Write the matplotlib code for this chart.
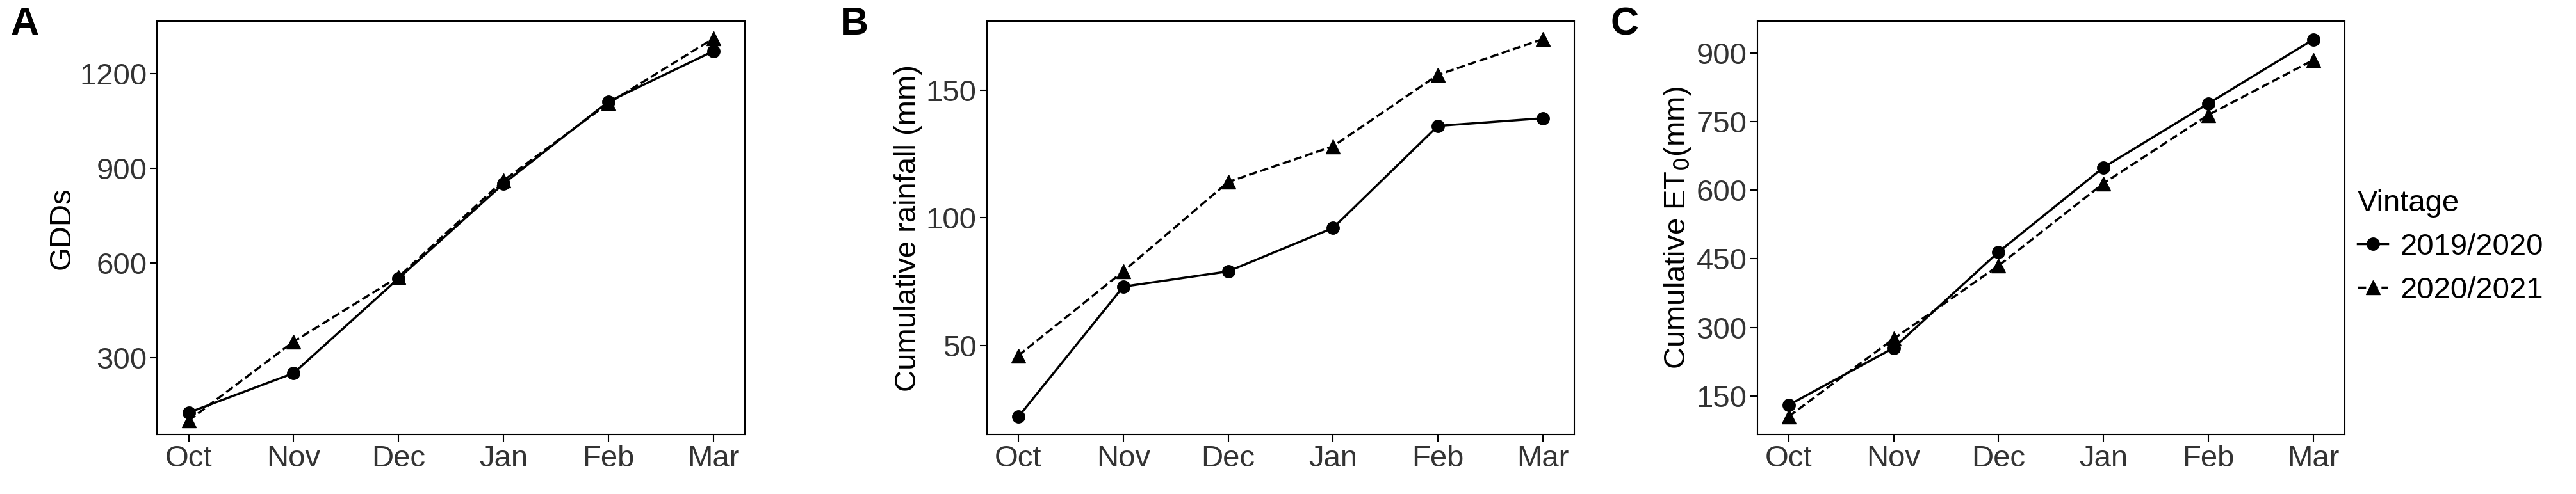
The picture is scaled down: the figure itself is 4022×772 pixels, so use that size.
import matplotlib
matplotlib.use("Agg")
import matplotlib.pyplot as plt
from matplotlib.lines import Line2D

months = ["Oct", "Nov", "Dec", "Jan", "Feb", "Mar"]
gdd_1920 = [125, 250, 550, 850, 1110, 1270]
gdd_2021 = [100, 350, 555, 860, 1105, 1310]
rain_1920 = [22, 73, 79, 96, 136, 139]
rain_2021 = [46, 79, 114, 128, 156, 170]
et_1920 = [130, 255, 465, 650, 790, 930]
et_2021 = [105, 275, 435, 615, 765, 885]

plt.rcParams['font.family'] = ['Liberation Sans', 'DejaVu Sans']
fig = plt.figure(figsize=(40.23, 7.72), dpi=100)
lefts = [0.061, 0.383, 0.682]
w = 0.228
FS = 34
panels = [
    ("A", "GDDs", gdd_1920, gdd_2021, [300, 600, 900, 1200], (55, 1365)),
    ("B", "Cumulative rainfall (mm)", rain_1920, rain_2021, [50, 100, 150], (15, 177)),
    ("C", "Cumulative ET$_0$(mm)", et_1920, et_2021, [150, 300, 450, 600, 750, 900], (65, 970)),
]
x = list(range(len(months)))
for l, (lab, ylab, s1, s2, yt, yl) in zip(lefts, panels):
    ax = fig.add_axes([l, 0.12, w, 0.837])
    ax.plot(x, s1, '-', color='black', marker='o', ms=14, lw=2.5)
    ax.plot(x, s2, '--', color='black', marker='^', ms=16, lw=2.5)
    ax.set_xticks(x)
    ax.set_xticklabels(months, fontsize=FS, color='#333333')
    ax.set_yticks(yt)
    ax.tick_params(axis='y', labelsize=FS, labelcolor='#333333', length=8, width=1.5)
    ax.tick_params(axis='x', length=8, width=1.5)
    ax.set_ylim(*yl)
    ax.set_xlim(-0.3, 5.3)
    ax.set_ylabel(ylab, fontsize=FS)
    for s in ax.spines.values():
        s.set_linewidth(1.5)
    fig.text(l - 0.057, 0.93, lab, fontsize=44, fontweight='bold')

handles = [Line2D([], [], color='black', ls='-', marker='o', ms=14, lw=2.5),
           Line2D([], [], color='black', ls='--', marker='^', ms=16, lw=2.5)]
fig.legend(handles, ["2019/2020", "2020/2021"], title="Vintage", loc='center left',
           bbox_to_anchor=(0.915, 0.5), frameon=False, fontsize=FS, title_fontsize=FS,
           handlelength=1.0, handletextpad=0.4, borderpad=0, borderaxespad=0,
           alignment='left')
fig.savefig("out.png", dpi=100)
